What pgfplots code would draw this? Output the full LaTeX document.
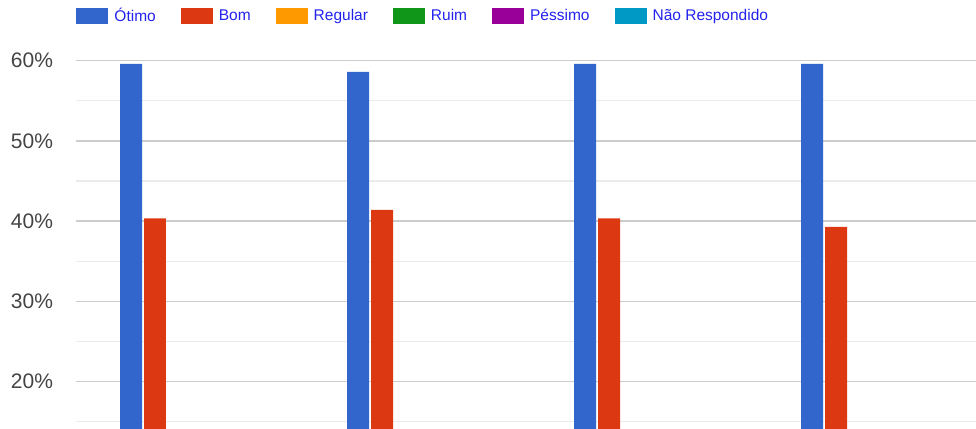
\documentclass[border=0pt]{standalone}
\usepackage{pgfplots}
\pgfplotsset{compat=1.18}
\usepackage{fontspec}
\setmainfont{Liberation Sans}
\definecolor{cOtimo}{HTML}{3366CC}
\definecolor{cBom}{HTML}{DC3912}
\definecolor{cRegular}{HTML}{FF9900}
\definecolor{cRuim}{HTML}{109618}
\definecolor{cPessimo}{HTML}{990099}
\definecolor{cNR}{HTML}{0099C6}
\definecolor{legtext}{HTML}{2222EE}
\definecolor{ticktext}{HTML}{444444}
\definecolor{majgrid}{HTML}{CCCCCC}
\definecolor{mingrid}{HTML}{EBEBEB}
\begin{document}
\begin{tikzpicture}
\begin{axis}[
  name=ax,
  scale only axis,
  width=899.5bp, height=379bp,
  xmin=-0.5044, xmax=3.458,
  ymin=14.1, ymax=61.33,
  axis line style={draw=none},
  xtick=\empty,
  ytick={20,30,40,50,60},
  minor ytick={15,25,35,45,55},
  yticklabel={\pgfmathprintnumber{\tick}\%},
  yticklabel style={font=\fontsize{21bp}{24bp}\selectfont, text=ticktext, anchor=east, xshift=-20bp},
  /pgf/number format/assume math mode=true,
  major tick length=0pt, minor tick length=0pt,
  ymajorgrids, yminorgrids,
  major grid style={draw=majgrid, line width=1.4bp},
  minor grid style={draw=mingrid, line width=1.3bp},
  bar width=0.0969,
  legend columns=6,
  legend style={draw=none, fill=none, inner sep=0pt, outer sep=0pt,
    at={(axis description cs:0,1)}, anchor=west, yshift=34bp,
    font=\fontsize{15.5bp}{18bp}\selectfont, text=legtext,
    nodes={inner sep=0pt, outer sep=0pt},
    /tikz/every odd column/.append style={column sep=6bp},
    /tikz/every even column/.append style={column sep=25bp}},
  legend image code/.code={\fill[#1] (0bp,-8bp) rectangle (32bp,8bp);},
]
\addplot[ybar, bar shift=-0.2643, fill=cOtimo, draw=none] coordinates {(0,59.6) (1,58.6) (2,59.6) (3,59.6)};
\addplot[ybar, bar shift=-0.1586, fill=cBom, draw=none] coordinates {(0,40.35) (1,41.4) (2,40.35) (3,39.3)};
\addlegendentry{Ótimo}
\addlegendentry{Bom}
\addlegendimage{fill=cRegular, draw=none}
\addlegendentry{Regular}
\addlegendimage{fill=cRuim, draw=none}
\addlegendentry{Ruim}
\addlegendimage{fill=cPessimo, draw=none}
\addlegendentry{Péssimo}
\addlegendimage{fill=cNR, draw=none}
\addlegendentry{Não Respondido}
\end{axis}
\pgfresetboundingbox
\path[use as bounding box] ([xshift=-76.5bp]ax.south west) rectangle ([yshift=50bp]ax.north east);
\end{tikzpicture}
\end{document}
